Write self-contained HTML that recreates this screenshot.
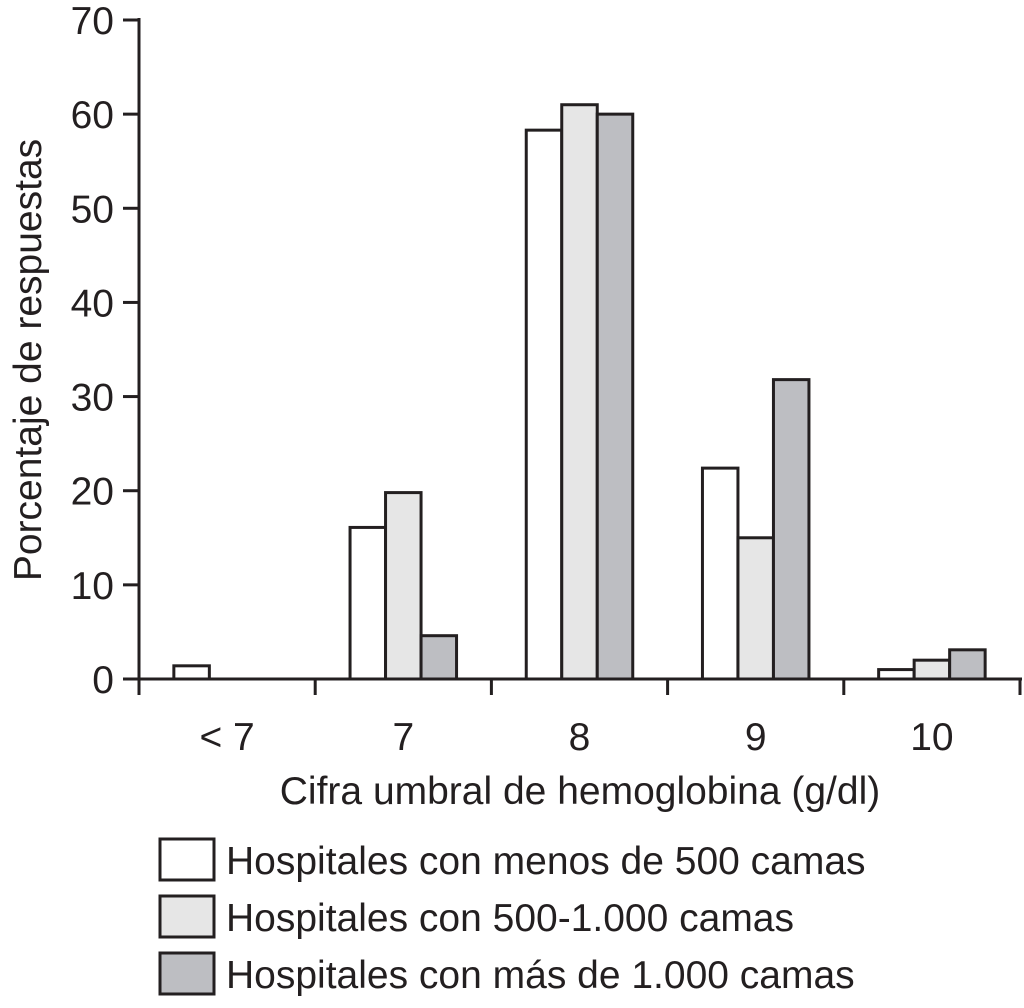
<!DOCTYPE html>
<html><head><meta charset="utf-8"><style>
html,body{margin:0;padding:0;background:#fff;}
svg text{font-family:"Liberation Sans",sans-serif;fill:#231f20;}
</style></head><body>
<svg id="chart" width="1024" height="1003" viewBox="0 0 1024 1003" xmlns="http://www.w3.org/2000/svg">
<g id="bars"></g>
<g id="axes"></g>
<text transform="translate(41,360) rotate(-90)" text-anchor="middle" font-size="39">Porcentaje de respuestas</text>
<text x="580" y="804" text-anchor="middle" font-size="39">Cifra umbral de hemoglobina (g/dl)</text>
<g>
<rect x="160" y="839" width="54" height="41" fill="#fff" stroke="#231f20" stroke-width="3"/>
<text x="226" y="874" font-size="39">Hospitales con menos de 500 camas</text>
<rect x="160" y="896" width="54" height="41" fill="#e6e6e6" stroke="#231f20" stroke-width="3"/>
<text x="226" y="931" font-size="39">Hospitales con 500-1.000 camas</text>
<rect x="160" y="953" width="54" height="41" fill="#bdbec2" stroke="#231f20" stroke-width="3"/>
<text x="226" y="988" font-size="39">Hospitales con más de 1.000 camas</text>
</g>
</svg>
<script>
const categories = ["< 7","7","8","9","10"];
const seriesSmall = [1.4,16.1,58.3,22.4,1.0];
const seriesMedium = [0,19.8,61.0,15.0,2.0];
const seriesLarge = [0,4.6,60.0,31.8,3.1];
const yTicks = [0,10,20,30,40,50,60,70];
const NS="http://www.w3.org/2000/svg";
const x0=139,x1=1020,y0=679,yTop=20,yMax=70;
const catW=(x1-x0)/categories.length;
const barW=35.5;
function yScale(v){return y0-(v/yMax)*(y0-yTop);}
function xCenter(i){return x0+catW*(i+0.5);}
function mk(tag,attrs,parent){const e=document.createElementNS(NS,tag);for(const k in attrs)e.setAttribute(k,attrs[k]);parent.appendChild(e);return e;}
const bars=document.getElementById('bars'),axes=document.getElementById('axes');
const series=[[seriesSmall,'#ffffff','small'],[seriesMedium,'#e6e6e6','medium'],[seriesLarge,'#bdbec2','large']];
series.forEach(([vals,fill,nm],s)=>{
  vals.forEach((v,i)=>{
    if(v<=0)return;
    const x=xCenter(i)-1.5*barW+s*barW;
    const r=mk('rect',{x:x,y:yScale(v),width:barW,height:y0-yScale(v),fill:fill,stroke:'#231f20','stroke-width':3},bars);
    
    
  });
});
let l=mk('line',{x1:x0,y1:yTop-2,x2:x0,y2:y0,stroke:'#231f20','stroke-width':3},axes);


l=mk('line',{x1:123,y1:y0,x2:x1+2,y2:y0,stroke:'#231f20','stroke-width':3},axes);


yTicks.forEach(t=>{
  const y=yScale(t);
  mk('line',{x1:123,y1:y,x2:x0,y2:y,stroke:'#231f20','stroke-width':3},axes);
  const tx=mk('text',{x:114,y:y+14,'text-anchor':'end','font-size':39},axes);
  tx.textContent=t;
  
  
});
for(let i=0;i<=categories.length;i++){
  const x=x0+catW*i;
  mk('line',{x1:x,y1:y0,x2:x,y2:695,stroke:'#231f20','stroke-width':3},axes);
}
categories.forEach((c,i)=>{
  const tx=mk('text',{x:xCenter(i),y:750,'text-anchor':'middle','font-size':39},axes);
  tx.textContent=c;
  
  
});
</script>
</body></html>
